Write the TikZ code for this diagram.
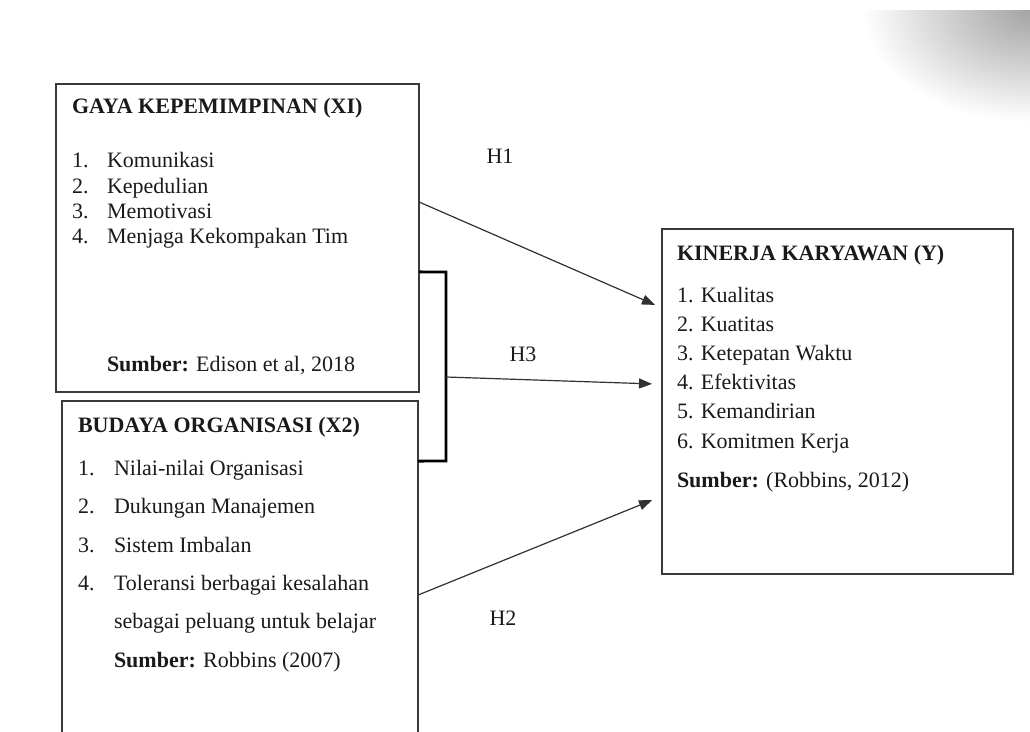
\documentclass[tikz,border=0pt]{standalone}
\usepackage{fontspec}
\setmainfont{Liberation Serif}
\usetikzlibrary{arrows.meta,calc}
\definecolor{edge}{HTML}{3A3A3A}
\definecolor{ink}{HTML}{1A1A1A}
\begin{document}
\begin{tikzpicture}[x=1pt,y=-1pt,
  every node/.style={inner sep=0pt,outer sep=0pt,text=ink,font=\fontsize{22}{25}\selectfont},
  box/.style={draw=edge,line width=1.5pt,anchor=north west},
  txt/.style={anchor=base west},
  hd/.style={anchor=base west,font=\fontsize{22}{25}\selectfont\bfseries},
  hlabel/.style={anchor=base},
  conn/.style={draw=ink!90,line width=1.2pt,-{Triangle[length=13pt,width=10pt]}},
  bracketline/.style={draw=black,line width=2.8pt}]
\useasboundingbox (0,0) rectangle (1030,731);
% shadow corner top right
\begin{scope}
\clip (850,10) rectangle (1030,140);
\shade[inner color=black!36,outer color=white] (1030,10) ellipse (168pt and 112pt);
\end{scope}
% boxes
\node[box,minimum width=363pt,minimum height=308pt] (x1) at (56,84) {};
\node[box,minimum width=356pt,minimum height=334pt] (x2) at (62,401) {};
\node[box,minimum width=351pt,minimum height=345pt] (y) at (662,229) {};
% X1 text
\node[hd] (x1h) at (72,113) {GAYA KEPEMIMPINAN (XI)};
\node[txt] (x1n1) at (72,167) {1.};
\node[txt] (x1i1) at (107,167) {Komunikasi};
\node[txt] (x1n2) at (72,193) {2.};
\node[txt] (x1i2) at (107,193) {Kepedulian};
\node[txt] (x1n3) at (72,218) {3.};
\node[txt] (x1i3) at (107,218) {Memotivasi};
\node[txt] (x1n4) at (72,243) {4.};
\node[txt] (x1i4) at (107,243) {Menjaga Kekompakan Tim};
\node[txt] (x1s) at (107,371) {\textbf{Sumber:} Edison et al, 2018};
% X2 text
\node[hd] (x2h) at (78,432) {BUDAYA ORGANISASI (X2)};
\node[txt] (x2n1) at (78,475) {1.};
\node[txt] (x2i1) at (114,475) {Nilai-nilai Organisasi};
\node[txt] (x2n2) at (78,513) {2.};
\node[txt] (x2i2) at (114,513) {Dukungan Manajemen};
\node[txt] (x2n3) at (78,552) {3.};
\node[txt] (x2i3) at (114,552) {Sistem Imbalan};
\node[txt] (x2n4) at (78,590) {4.};
\node[txt] (x2i4) at (114,590) {Toleransi berbagai kesalahan};
\node[txt] (x2i4b) at (114,628) {sebagai peluang untuk belajar};
\node[txt] (x2s) at (114,667) {\textbf{Sumber:} Robbins (2007)};
% Y text
\node[hd] (yh) at (677,260) {KINERJA KARYAWAN (Y)};
\node[txt] (y1) at (677,302) {1. Kualitas};
\node[txt] (y2) at (677,331) {2. Kuatitas};
\node[txt] (y3) at (677,360) {3. Ketepatan Waktu};
\node[txt] (y4) at (677,389) {4. Efektivitas};
\node[txt] (y5) at (677,418) {5. Kemandirian};
\node[txt] (y6) at (677,448) {6. Komitmen Kerja};
\node[txt] (ys) at (677,487) {\textbf{Sumber:} (Robbins, 2012)};
% bracket
\coordinate (b1) at (446,272);
\coordinate (b2) at (446,461);
\coordinate (bm) at (446,377);
\draw[bracketline] ($(x1.north east)!0.610!(x1.south east)$) -- (b1) -- (b2) -- ($(x2.north east)!0.180!(x2.south east)$);
% arrows
\draw[conn] ($(x1.north east)!0.383!(x1.south east)$) -- ($([xshift=-7pt]y.north west)!0.220!([xshift=-7pt]y.south west)$);
\draw[conn] (bm) -- ($([xshift=-10pt]y.north west)!0.449!([xshift=-10pt]y.south west)$);
\draw[conn] ($(x2.north east)!0.581!(x2.south east)$) -- ($([xshift=-10pt]y.north west)!0.786!([xshift=-10pt]y.south west)$);
% labels
\node[hlabel] (h1) at (500,163) {H1};
\node[hlabel] (h3) at (523,361) {H3};
\node[hlabel] (h2) at (503,625) {H2};
\end{tikzpicture}
\end{document}
